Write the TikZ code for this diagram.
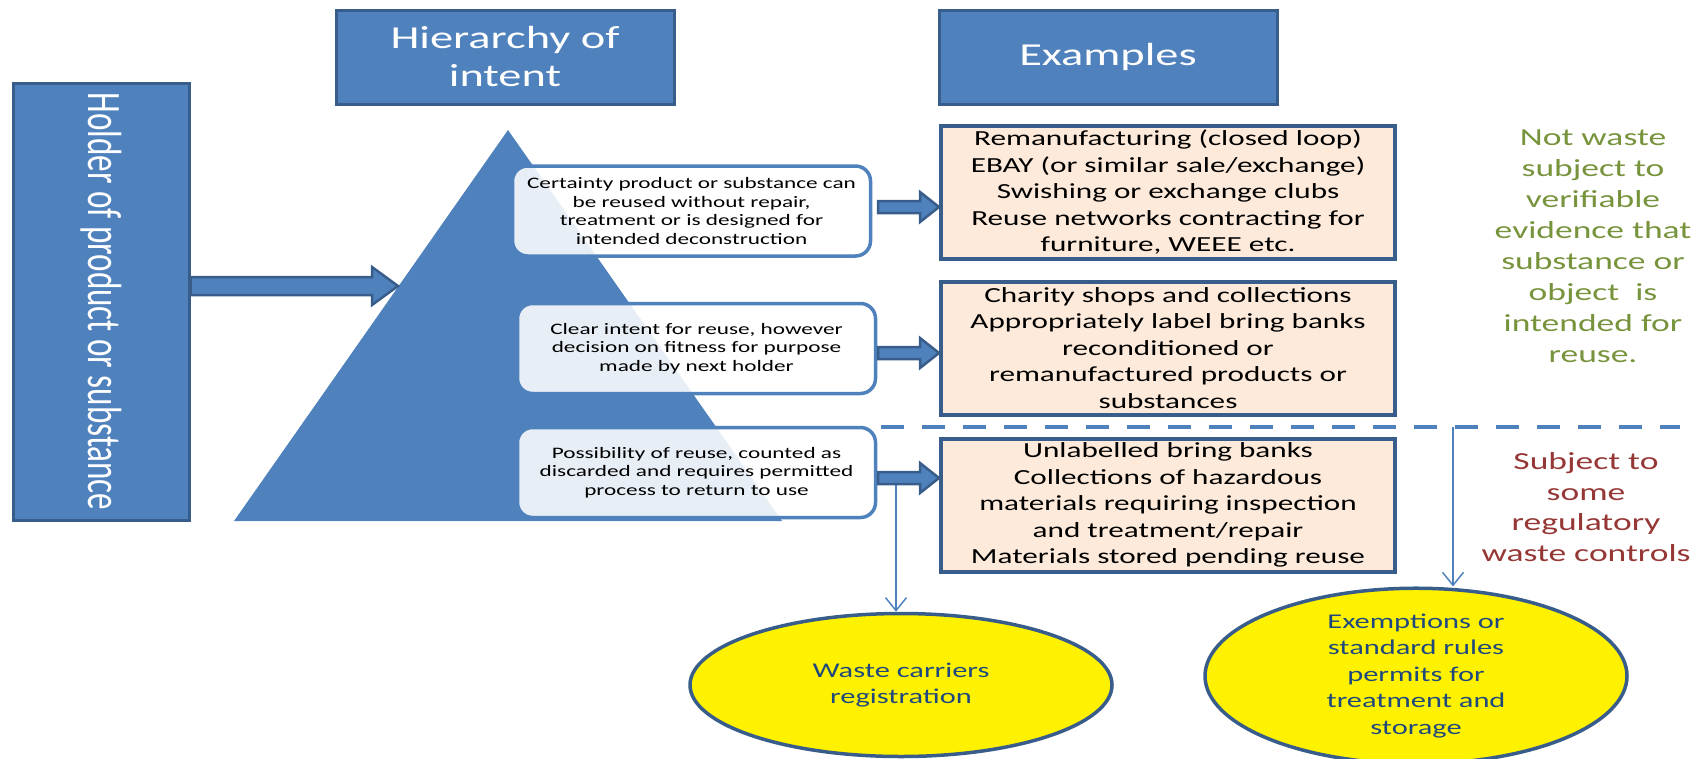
\documentclass[tikz,border=0pt]{standalone}
\usepackage{fontspec}
\setmainfont{Carlito}[FakeStretch=1.45]
\newfontfamily\holderfont{Carlito}[FakeStretch=0.69]
\usepackage{xcolor}
\usepackage{tikz}
\usetikzlibrary{shapes.geometric,arrows.meta,calc}
\definecolor{boxblue}{HTML}{4F81BD}
\definecolor{edgeblue}{HTML}{385D8A}
\definecolor{peach}{HTML}{FDEADA}
\definecolor{notwaste}{HTML}{77933C}
\definecolor{regwaste}{HTML}{953735}
\definecolor{navytext}{HTML}{1F497D}
\newcommand{\fatarrow}[5]{\draw[fatarrow] ($(#1)+(0,-#3)$) -- ($(#2)+(-#5,-#3)$) -- ($(#2)+(-#5,-#4)$) -- (#2) -- ($(#2)+(-#5,#4)$) -- ($(#2)+(-#5,#3)$) -- ($(#1)+(0,#3)$) -- cycle;}

\begin{document}
\begin{tikzpicture}[x=1pt, y=-1pt,
	bluebox/.style={draw=edgeblue, line width=3pt, fill=boxblue, text=white, inner sep=0pt},
	intent/.style={draw=boxblue, line width=3.5pt, rounded corners=15pt, fill=white, fill opacity=0.87, text opacity=1, minimum width=358pt, minimum height=90pt, align=center, font=\fontsize{16}{18.4}\selectfont, inner sep=0pt},
	example/.style={draw=edgeblue, line width=4pt, fill=peach, minimum width=454pt, minimum height=133pt, align=center, font=\fontsize{21.5}{26.5}\selectfont, inner sep=0pt},
	outcome/.style={ellipse, draw=edgeblue, line width=3.5pt, fill=yellow, text=navytext, minimum width=422pt, minimum height=143pt, align=center, font=\fontsize{21}{26.5}\selectfont, inner sep=0pt},
	fatarrow/.style={draw=edgeblue, line width=2.5pt, fill=boxblue},
	thinarrow/.style={draw=boxblue, line width=1.5pt, -{Straight Barb[length=13pt, width=21pt]}}]
	\useasboundingbox (0,0) rectangle (1704,758);
	\coordinate (apex) at (508,130);
	\coordinate (baseL) at (234,521);
	\coordinate (baseR) at (782,521);
	\fill[boxblue] (apex) -- (baseL) -- (baseR) -- cycle;
	\node[bluebox, minimum width=176pt, minimum height=437pt] (holder) at (101,301.5) {};
	\node[rotate=-90, text=white, font=\holderfont\fontsize{48}{50}\selectfont] (holdertext) at (holder) {Holder of product or substance};
	\node[bluebox, minimum width=338pt, minimum height=94pt, align=center, font=\fontsize{32}{38}\selectfont] (hierarchy) at (505,57) {Hierarchy of\\intent};
	\node[bluebox, minimum width=338pt, minimum height=94pt, font=\fontsize{32}{38}\selectfont] (examples) at (1108,57) {Examples};
	\node[intent] (i1) at (691.5,211) {Certainty product or substance can\\be reused without repair,\\treatment or is designed for\\intended deconstruction};
	\node[intent] (i2) at (696.5,348.5) {Clear intent for reuse, however\\decision on fitness for purpose\\made by next holder};
	\node[intent] (i3) at (696.5,472.5) {Possibility of reuse, counted as\\discarded and requires permitted\\process to return to use};
	\node[example] (e1) at (1168,192.5) {Remanufacturing (closed loop)\\EBAY (or similar sale/exchange)\\Swishing or exchange clubs\\Reuse networks contracting for\\furniture, WEEE etc.};
	\node[example] (e2) at (1168,348) {Charity shops and collections\\Appropriately label bring banks\\reconditioned or\\remanufactured products or\\substances};
	\node[example] (e3) at (1168,505) {Unlabelled bring banks\\Collections of hazardous\\materials requiring inspection\\and treatment/repair\\Materials stored pending reuse};
	\node[outcome] (el1) at (901,685) {Waste carriers\\registration};
	\node[outcome] (el2) at (1416,676) {Exemptions or\\standard rules\\permits for\\treatment and\\storage};
	\node[text=notwaste, align=center, font=\fontsize{24.5}{31}\selectfont] (notwaste) at (1593,246) {Not waste\\subject to\\verifiable\\evidence that\\substance or\\object~ is\\intended for\\reuse.};
	\node[text=regwaste, align=center, font=\fontsize{24.5}{30.7}\selectfont] (regwaste) at (1586,507) {Subject to\\some\\regulatory\\waste controls};
	\coordinate (divL) at (881,427);
	\coordinate (divR) at (1680,427);
	\coordinate (drop1) at (896,478);
	\coordinate (drop2) at (1453,427);
	\draw[thinarrow] (drop1) -- (drop1 |- el1.north);
	\draw[thinarrow] (drop2) -- (drop2 |- el2.north);
	\coordinate (tip) at (398,286);
	\coordinate (hs) at (holder.east |- tip);
	\fatarrow{hs}{tip}{9}{19}{26}
	\coordinate (a1s) at (878,207);
	\coordinate (a2s) at (878,353);
	\coordinate (a3s) at (878,478);
	\coordinate (a1e) at (e1.west |- a1s);
	\coordinate (a2e) at (e2.west |- a2s);
	\coordinate (a3e) at (e3.west |- a3s);
	\fatarrow{a1s}{a1e}{6}{15}{19}
	\fatarrow{a2s}{a2e}{6}{15}{19}
	\fatarrow{a3s}{a3e}{6}{15}{19}
	\draw[boxblue, line width=4.5pt, dash pattern=on 23pt off 18pt] (divL) -- (divR);
\end{tikzpicture}
\end{document}
